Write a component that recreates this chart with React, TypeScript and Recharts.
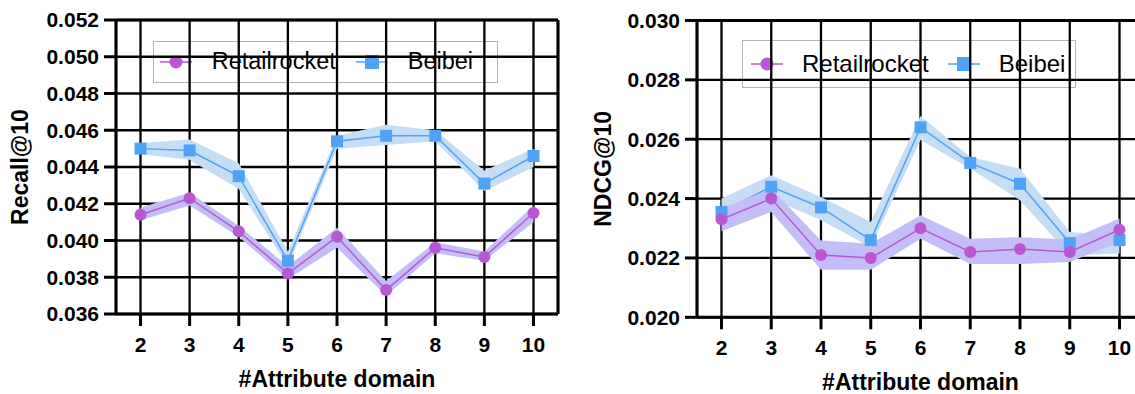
import React from 'react'
import { ComposedChart, Line, Area, XAxis, YAxis, CartesianGrid, Legend } from 'recharts'

// #Attribute domain
const DOMAINS = ['2', '3', '4', '5', '6', '7', '8', '9', '10']

// Recall@10
const recallRetail = [0.0414, 0.0423, 0.0405, 0.0382, 0.0402, 0.0373, 0.0396, 0.0391, 0.0415]
const recallRetailLow = [0.0411, 0.0419, 0.0402, 0.0379, 0.0396, 0.037, 0.0393, 0.0389, 0.041]
const recallRetailHigh = [0.0418, 0.0426, 0.0408, 0.0386, 0.0407, 0.0378, 0.0399, 0.0394, 0.0419]
const recallBeibei = [0.045, 0.0449, 0.0435, 0.0389, 0.0454, 0.0457, 0.0457, 0.0431, 0.0446]
const recallBeibeiLow = [0.0447, 0.0444, 0.0428, 0.0386, 0.045, 0.0452, 0.0454, 0.0427, 0.044]
const recallBeibeiHigh = [0.0453, 0.0455, 0.0442, 0.0394, 0.0457, 0.0463, 0.046, 0.0438, 0.045]

// NDCG@10
const ndcgRetail = [0.0233, 0.024, 0.0221, 0.022, 0.023, 0.0222, 0.0223, 0.0222, 0.02295]
const ndcgRetailLow = [0.0229, 0.02355, 0.0216, 0.0216, 0.02265, 0.0218, 0.0218, 0.02186, 0.02254]
const ndcgRetailHigh = [0.02366, 0.02434, 0.02259, 0.02248, 0.02344, 0.02265, 0.0227, 0.02262, 0.02333]
const ndcgBeibei = [0.02355, 0.0244, 0.0237, 0.0226, 0.0264, 0.0252, 0.0245, 0.0225, 0.0226]
const ndcgBeibeiLow = [0.0231, 0.024, 0.02327, 0.02237, 0.02597, 0.02501, 0.02394, 0.02209, 0.02215]
const ndcgBeibeiHigh = [0.024, 0.02479, 0.02405, 0.02321, 0.02678, 0.0254, 0.02501, 0.02287, 0.02276]

const RECALL_TICKS = [0.036, 0.038, 0.04, 0.042, 0.044, 0.046, 0.048, 0.05, 0.052]
const NDCG_TICKS = [0.02, 0.022, 0.024, 0.026, 0.028, 0.03]

const PURPLE = '#ba55d3'
const PURPLE_BAND = '#c3bef7'
const BLUE = '#4ea3f7'
const BLUE_BAND = '#c6ddf6'
const FONT = '"Liberation Sans", Arial, Helvetica, sans-serif'

const SERIES = [
  { name: 'Retailrocket', color: PURPLE, shape: 'circle' },
  { name: 'Beibei', color: BLUE, shape: 'square' },
]

function buildRows(r: number[], rl: number[], rh: number[], b: number[], bl: number[], bh: number[]) {
  return DOMAINS.map((d, i) => ({
    domain: d,
    retail: r[i],
    retailBand: [rl[i], rh[i]],
    beibei: b[i],
    beibeiBand: [bl[i], bh[i]],
  }))
}

const recallRows = buildRows(recallRetail, recallRetailLow, recallRetailHigh, recallBeibei, recallBeibeiLow, recallBeibeiHigh)
const ndcgRows = buildRows(ndcgRetail, ndcgRetailLow, ndcgRetailHigh, ndcgBeibei, ndcgBeibeiLow, ndcgBeibeiHigh)

const SquareDot = (props: any) => {
  const { cx, cy, index } = props
  if (cx == null || cy == null) return <g key={`sq-${index}`} />
  return <rect key={`sq-${index}`} x={cx - 6} y={cy - 6} width={12} height={12} fill={BLUE} />
}

function LegendBox({ fontSize, pad, gap }: { fontSize: number; pad: number; gap: number }) {
  return (
    <div
      style={{
        boxSizing: 'border-box',
        width: '100%',
        height: '100%',
        border: '1.5px solid #b3b3b3',
        display: 'flex',
        alignItems: 'center',
        paddingLeft: pad,
        fontFamily: FONT,
        fontSize,
        color: '#000',
      }}
    >
      {SERIES.map((s, i) => (
        <div key={s.name} style={{ display: 'flex', alignItems: 'center', marginLeft: i ? gap : 0 }}>
          <svg width={32} height={16} style={{ display: 'block' }}>
            <line x1={0} y1={8} x2={32} y2={8} stroke={s.color} strokeWidth={1.5} />
            {s.shape === 'circle' ? (
              <circle cx={16} cy={8} r={6.5} fill={s.color} />
            ) : (
              <rect x={9} y={1} width={14} height={14} fill={s.color} />
            )}
          </svg>
          <span style={{ marginLeft: gap, lineHeight: 1 }}>{s.name}</span>
        </div>
      ))}
    </div>
  )
}

interface PanelProps {
  rows: ReturnType<typeof buildRows>
  yLabel: string
  ticks: number[]
  left: number
  width: number
  plotTop: number
  axisHeight: number
  titleOffset: number
  labelOffset: number
  legend: { left: number; top: number; width: number; height: number; fontSize: number; pad: number; gap: number }
}

function Panel({ rows, yLabel, ticks, left, width, plotTop, axisHeight, titleOffset, labelOffset, legend }: PanelProps) {
  const domain: [number, number] = [ticks[0], ticks[ticks.length - 1]]
  const tickStyle = { fill: '#000', fontSize: 21, fontWeight: 700, fontFamily: FONT }
  const line = { stroke: '#000', strokeWidth: 3 }
  const pad = { left: 24.5, right: 24.5 }
  return (
    <div style={{ position: 'absolute', left, top: 0 }}>
      <ComposedChart width={width} height={394} data={rows} margin={{ top: plotTop, right: 12, bottom: 0, left: 0 }}>
        <CartesianGrid stroke="#000" strokeWidth={2.3} strokeOpacity={1} />
        <Area
          dataKey="beibeiBand"
          type="linear"
          stroke="none"
          fill={BLUE_BAND}
          fillOpacity={1}
          activeDot={false}
          isAnimationActive={false}
          zIndex={101}
        />
        <Line
          dataKey="beibei"
          type="linear"
          stroke={BLUE}
          strokeWidth={1.5}
          dot={SquareDot}
          activeDot={false}
          isAnimationActive={false}
          zIndex={102}
        />
        <Area
          dataKey="retailBand"
          type="linear"
          stroke="none"
          fill={PURPLE_BAND}
          fillOpacity={1}
          activeDot={false}
          isAnimationActive={false}
          zIndex={103}
        />
        <Line
          dataKey="retail"
          type="linear"
          stroke={PURPLE}
          strokeWidth={1.5}
          dot={{ r: 6, fill: PURPLE, stroke: 'none' }}
          activeDot={false}
          isAnimationActive={false}
          zIndex={104}
        />
        <XAxis
          dataKey="domain"
          height={axisHeight}
          padding={pad}
          tick={tickStyle}
          tickSize={12}
          tickMargin={11}
          axisLine={line}
          tickLine={line}
          label={{
            value: '#Attribute domain',
            position: 'insideBottom',
            offset: titleOffset,
            fill: '#000',
            fontSize: 23,
            fontWeight: 700,
            fontFamily: FONT,
          }}
        />
        <XAxis
          xAxisId="top"
          dataKey="domain"
          orientation="top"
          mirror
          height={1}
          padding={pad}
          tick={false}
          tickSize={11}
          axisLine={line}
          tickLine={line}
        />
        <YAxis
          width={116}
          domain={domain}
          ticks={ticks}
          interval={0}
          tickFormatter={(v: number) => v.toFixed(3)}
          tick={tickStyle}
          tickSize={12}
          tickMargin={5}
          axisLine={line}
          tickLine={line}
          label={{
            value: yLabel,
            angle: -90,
            position: 'insideLeft',
            offset: labelOffset,
            fill: '#000',
            fontSize: 23,
            fontWeight: 700,
            fontFamily: FONT,
            style: { textAnchor: 'middle' },
          }}
        />
        <YAxis
          yAxisId="right"
          orientation="right"
          mirror
          width={1}
          domain={domain}
          ticks={ticks}
          interval={0}
          tick={false}
          tickSize={11}
          axisLine={line}
          tickLine={line}
        />
        <Legend
          verticalAlign="middle"
          align="center"
          layout="horizontal"
          wrapperStyle={{
            left: legend.left,
            top: legend.top,
            width: legend.width,
            height: legend.height,
            zIndex: -1,
          }}
          content={() => <LegendBox fontSize={legend.fontSize} pad={legend.pad} gap={legend.gap} />}
        />
      </ComposedChart>
    </div>
  )
}

export default function App() {
  return (
    <div
      style={{
        position: 'absolute',
        left: 0,
        top: 0,
        width: 1135,
        height: 394,
        overflow: 'hidden',
        background: '#fff',
        zIndex: 0,
      }}
    >
      <Panel
        rows={recallRows}
        yLabel="Recall@10"
        ticks={RECALL_TICKS}
        left={0}
        width={570}
        plotTop={20}
        axisHeight={80}
        titleOffset={7}
        labelOffset={20}
        legend={{ left: 152.7, top: 41, width: 345, height: 42.3, fontSize: 23.5, pad: 6, gap: 20 }}
      />
      <Panel
        rows={ndcgRows}
        yLabel="NDCG@10"
        ticks={NDCG_TICKS}
        left={581}
        width={575}
        plotTop={20.5}
        axisHeight={76.7}
        titleOffset={4.4}
        labelOffset={22}
        legend={{ left: 161, top: 40, width: 334, height: 48.3, fontSize: 24, pad: 8, gap: 19 }}
      />
    </div>
  )
}
